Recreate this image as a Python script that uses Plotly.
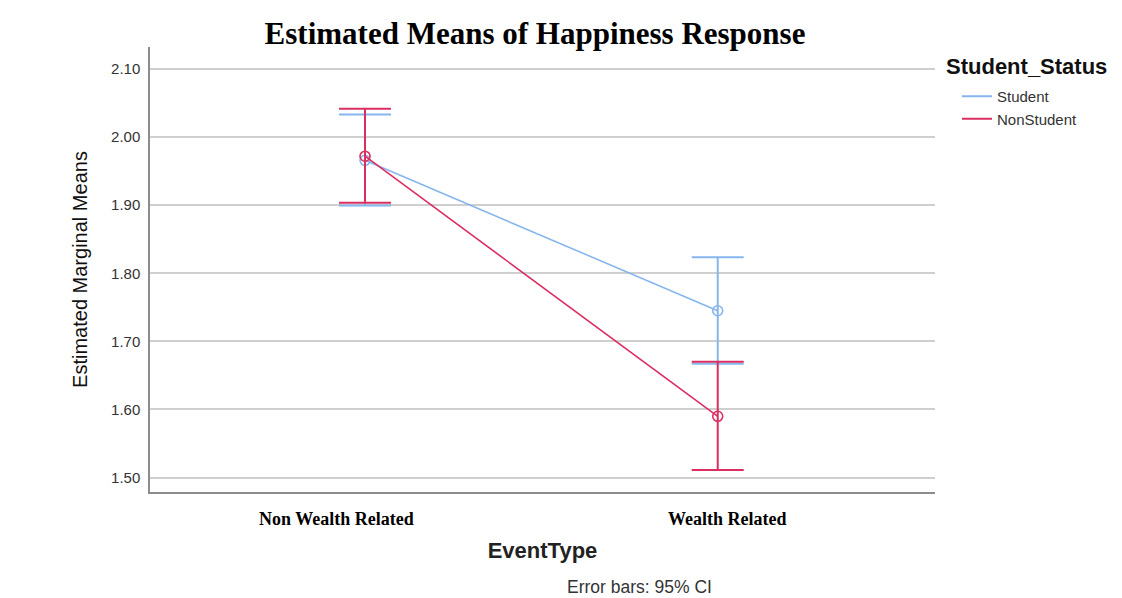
import plotly.graph_objects as go

categories = ["Non Wealth Related", "Wealth Related"]
student_mean = [1.966, 1.745]
student_lo = [1.8995, 1.667]
student_hi = [2.0334, 1.8236]
nonstudent_mean = [1.972, 1.590]
nonstudent_lo = [1.9035, 1.511]
nonstudent_hi = [2.0418, 1.670]

series = [
    ("Student", student_mean, student_lo, student_hi, "#86b6ee"),
    ("NonStudent", nonstudent_mean, nonstudent_lo, nonstudent_hi, "#db2e60"),
]

fig = go.Figure()
for name, m, lo, hi, col in series:
    fig.add_trace(go.Scatter(
        x=categories, y=m, name=name, mode="lines+markers", showlegend=False,
        legendgroup=name,
        line=dict(color=col, width=1.6),
        marker=dict(symbol="circle-open", size=10, color=col, line=dict(width=1.6, color=col)),
        error_y=dict(type="data", symmetric=False,
                     array=[h - v for h, v in zip(hi, m)],
                     arrayminus=[v - l for l, v in zip(lo, m)],
                     color=col, thickness=2, width=26),
    ))
for name, m, lo, hi, col in series:
    fig.add_trace(go.Scatter(
        x=[None], y=[None], name=name, mode="lines", legendgroup=name,
        line=dict(color=col, width=2),
    ))

# page body has an 8px margin, so figure coords = page coords - 8
W, H = 1114, 590
L, R, T, B = 142, 187, 39, 106
PW, PH = W - L - R, H - T - B
fig.update_layout(
    width=W, height=H,
    margin=dict(l=L, r=R, t=T, b=B),
    paper_bgcolor="white", plot_bgcolor="white",
    title=dict(text="<b>Estimated Means of Happiness Response</b>",
               font=dict(family="Liberation Serif", size=31, color="black"),
               x=527 / W, xanchor="center", y=1 - 25 / H, yanchor="middle"),
    xaxis=dict(type="category", range=[-0.6096, 1.616], showgrid=False,
               showline=True, linecolor="#8c8c8c", linewidth=1.5,
               showticklabels=False, ticks="",
               title=dict(text="<b>EventType</b>", standoff=50,
                          font=dict(family="Liberation Sans", size=22, color="#222"))),
    yaxis=dict(range=[1.4788, 2.1324], tickvals=[1.5, 1.6, 1.7, 1.8, 1.9, 2.0, 2.1],
               ticktext=["1.50", "1.60", "1.70", "1.80", "1.90", "2.00", "2.10"],
               showgrid=True, gridcolor="#cfcfcf", gridwidth=1.5, zeroline=False,
               showline=True, linecolor="#8c8c8c", linewidth=1.5, ticks="",
               ticklabelstandoff=5,
               tickfont=dict(family="Liberation Sans", size=15, color="#333"),
               title=dict(text="Estimated Marginal Means", standoff=18,
                          font=dict(family="Liberation Sans", size=20, color="#111"))),
    legend=dict(font=dict(family="Liberation Sans", size=15, color="#333"),
                x=(949 - L) / PW, xanchor="left", y=(484 - 72) / PH, yanchor="top",
                bgcolor="rgba(0,0,0,0)", tracegroupgap=0, itemwidth=30),
    showlegend=True,
)
# legend title
fig.add_annotation(text="<b>Student_Status</b>", xref="paper", yref="paper",
                   x=(936 - L) / PW, y=(484 - 58) / PH, xanchor="left", yanchor="middle",
                   showarrow=False, font=dict(family="Liberation Sans", size=22, color="#111"))
# category labels (slightly offset as in the original)
for cat, dx in zip(categories, [-29, 10]):
    fig.add_annotation(text=f"<b>{cat}</b>", x=cat, xref="x", y=0, yref="paper",
                       xshift=dx, yshift=-27, xanchor="center", yanchor="middle",
                       showarrow=False,
                       font=dict(family="Liberation Serif", size=18, color="black"))
fig.add_annotation(text="Error bars: 95% CI", xref="paper", yref="paper",
                   x=(631 - L) / PW, y=-(579 - 484) / PH, xanchor="center", yanchor="middle",
                   showarrow=False, font=dict(family="Liberation Sans", size=17.5, color="#333"))

fig.write_html("out.html")
